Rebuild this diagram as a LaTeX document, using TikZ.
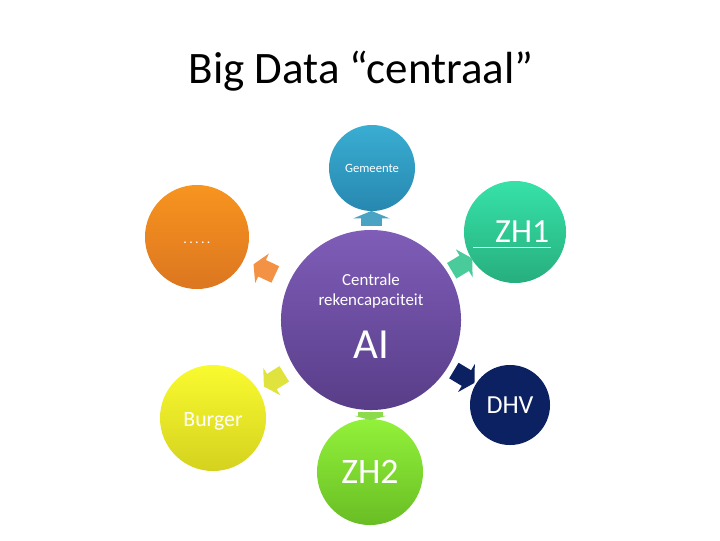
\documentclass[tikz,border=0pt]{standalone}
\usepackage{fontspec}
\setmainfont{Carlito}
\usepackage{xcolor}
\usetikzlibrary{shapes.arrows,calc}

\definecolor{gemtop}{HTML}{3AADD2}
\definecolor{gembot}{HTML}{2788B0}
\definecolor{gemarr}{HTML}{4BA3C3}
\definecolor{zhonetop}{HTML}{36E2A8}
\definecolor{zhonebot}{HTML}{27AE7E}
\definecolor{zhonearr}{HTML}{4ACB9B}
\definecolor{dotstop}{HTML}{F8941F}
\definecolor{dotsbot}{HTML}{DC7620}
\definecolor{dotsarr}{HTML}{F39145}
\definecolor{centtop}{HTML}{7F5DB8}
\definecolor{centbot}{HTML}{583D88}
\definecolor{dhvblue}{HTML}{0B2161}
\definecolor{burgtop}{HTML}{FAFA30}
\definecolor{burgbot}{HTML}{D4D21E}
\definecolor{burgarr}{HTML}{E0E33E}
\definecolor{zhtwotop}{HTML}{92F23A}
\definecolor{zhtwobot}{HTML}{69BD24}
\definecolor{zhtwoarr}{HTML}{8DDB4C}

\begin{document}
\begin{tikzpicture}[
    x=0.025cm, y=-0.025cm,
    bubble/.style={circle, inner sep=0pt, align=center, text=white},
    pointer/.style={single arrow, draw=none, inner xsep=0pt, inner ysep=0.22cm,
      minimum height=0.6cm, single arrow head extend=0.18cm, single arrow tip angle=120},
  ]
  \useasboundingbox (0,0) rectangle (720,540);
  \node[font=\fontsize{32}{38}\selectfont, anchor=base] (title) at (361,83) {Big Data “centraal”};

  % hub in the middle
  \node[bubble, minimum size=4.5cm, top color=centtop, bottom color=centbot] (centre) at (371,320) {};
  \node[text=white, align=center, font=\fontsize{12}{14.5}\selectfont] (centre-txt) at (371,291) {Centrale\\rekencapaciteit};
  \node[text=white, font=\fontsize{30.5}{34}\selectfont] (centre-ai) at (371,345) {AI};

  % outer bubbles
  \node[bubble, minimum size=2.15cm, top color=gemtop, bottom color=gembot, font=\fontsize{9}{11}\selectfont] (gem) at (372,168) {Gemeente};
  \node[bubble, minimum size=2.55cm, top color=zhonetop, bottom color=zhonebot,
    label={[name=zhone-txt, xshift=0.18cm, text=white, font=\fontsize{24}{28}\selectfont]center:ZH1}] (zhone) at (515,232) {};
  \node[bubble, minimum size=2.6cm, top color=dotstop, bottom color=dotsbot, font=\fontsize{10}{12}\selectfont,
    text height=0.3cm, text depth=0pt] (dots) at (197,237) {.\,.\,.\,.\,.};
  \node[bubble, minimum size=2.65cm, top color=burgtop, bottom color=burgbot, font=\fontsize{15.5}{18}\selectfont,
    text height=0.42cm, text depth=0pt] (burger) at (213,418) {Burger};
  \node[bubble, minimum size=2cm, fill=dhvblue, font=\fontsize{18.5}{22}\selectfont] (dhv) at (510,405) {DHV};
  \node[bubble, minimum size=2.65cm, top color=zhtwotop, bottom color=zhtwobot, font=\fontsize{25.5}{30}\selectfont] (zhtwo) at (370,472) {ZH2};

  \draw[white!85!zhonebot, line width=0.6pt] ($(zhone)+(-42,15)$) -- ($(zhone)+(36,15)$);

  % arrows in the gaps
  \node[pointer, fill=gemarr, rotate=90, minimum height=0.375cm, inner ysep=0.25cm,
    single arrow head extend=0.2cm, single arrow tip angle=135] (gem-arr) at ($(centre.90)!0.5!(gem.270)$) {};
  \node[pointer, fill=zhonearr, rotate=31] (zhone-arr) at ($(centre.31)!0.5!(zhone.211)$) {};
  \node[pointer, fill=dotsarr, rotate=155] (dots-arr) at ($(centre.155)!0.5!(dots.335)$) {};
  \node[pointer, fill=burgarr, rotate=212] (burger-arr) at ($(centre.212)!0.5!(burger.32)$) {};
  \node[pointer, fill=dhvblue, rotate=-31] (dhv-arr) at ($(centre.-31)!0.5!(dhv.149)$) {};
  \node[pointer, fill=zhtwoarr, rotate=-90, minimum height=0.2cm, inner ysep=0.3cm,
    single arrow head extend=0.1cm, single arrow tip angle=150] (zhtwo-arr) at ($(centre.270)!0.5!(zhtwo.90)$) {};
\end{tikzpicture}
\end{document}
